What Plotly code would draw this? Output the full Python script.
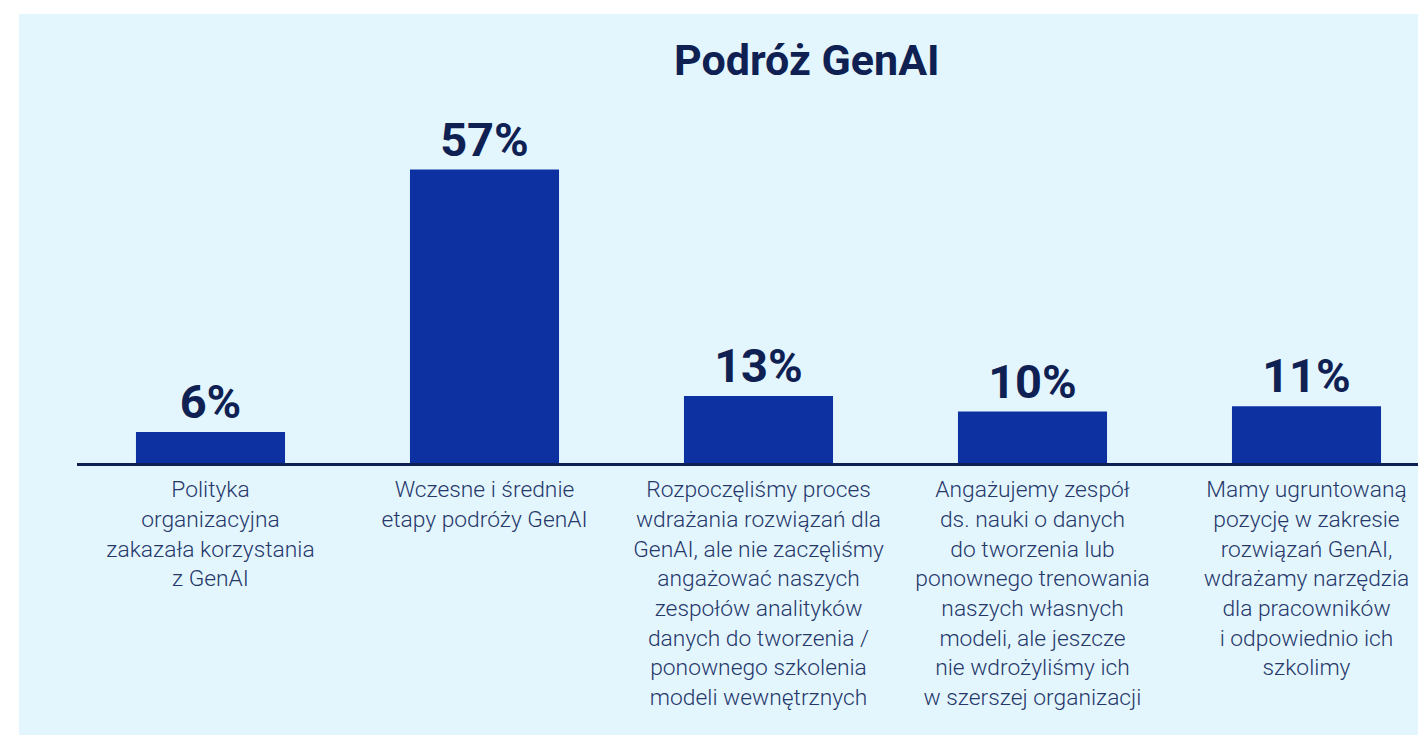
import plotly.graph_objects as go

categories = [
    "Polityka<br>organizacyjna<br>zakazała korzystania<br>z GenAI",
    "Wczesne i średnie<br>etapy podróży GenAI",
    "Rozpoczęliśmy proces<br>wdrażania rozwiązań dla<br>GenAI, ale nie zaczęliśmy<br>angażować naszych<br>zespołów analityków<br>danych do tworzenia /<br>ponownego szkolenia<br>modeli wewnętrznych",
    "Angażujemy zespół<br>ds. nauki o danych<br>do tworzenia lub<br>ponownego trenowania<br>naszych własnych<br>modeli, ale jeszcze<br>nie wdrożyliśmy ich<br>w szerszej organizacji",
    "Mamy ugruntowaną<br>pozycję w zakresie<br>rozwiązań GenAI,<br>wdrażamy narzędzia<br>dla pracowników<br>i odpowiednio ich<br>szkolimy",
]
values = [6, 57, 13, 10, 11]
value_labels = ["6%", "57%", "13%", "10%", "11%"]
title_text = "Podróż GenAI"

W, H = 1418, 735
ML, MT, MB = 77, 99, 272
plot_w = W - ML
plot_h = H - MT - MB
slot = 274.0
x0 = -(210.5 - ML) / slot
x1 = x0 + plot_w / slot

NAVY = "#0f2152"
BAR = "#0d31a1"
LABEL = "#26386a"
BG = "#e3f6fe"

fig = go.Figure()
fig.add_trace(go.Bar(
    x=list(range(len(values))),
    y=values,
    marker=dict(color=BAR, line=dict(width=0)),
    width=0.544,
    text=value_labels,
    textposition="outside",
    textfont=dict(family="Roboto", size=47, color=NAVY, weight="bold"),
    cliponaxis=False,
    hoverinfo="skip",
))

fig.update_layout(
    width=W, height=H,
    margin=dict(l=ML, r=0, t=MT, b=MB, pad=0),
    paper_bgcolor="white",
    plot_bgcolor=BG,
    showlegend=False,
    font=dict(family="Roboto", color=LABEL),
    xaxis=dict(
        range=[x0, x1],
        tickmode="array",
        tickvals=list(range(len(values))),
        ticktext=categories,
        tickfont=dict(family="Roboto", size=22.8, color=LABEL, weight=300),
        showline=True, linecolor=NAVY, linewidth=3,
        showgrid=False, zeroline=False, ticks="",
        ticklabelstandoff=4,
        fixedrange=True,
    ),
    yaxis=dict(
        range=[0, 70.7],
        visible=False,
        showgrid=False, zeroline=False,
        fixedrange=True,
    ),
    annotations=[dict(
        text=title_text, xref="paper", yref="paper",
        x=(807 - ML) / plot_w, y=(H - MB - 60) / plot_h,
        xanchor="center", yanchor="middle", showarrow=False,
        font=dict(family="Roboto", size=43, color=NAVY, weight="bold"),
    )],
    shapes=[dict(
        type="rect", xref="paper", yref="paper", layer="below",
        x0=(19 - ML) / plot_w, x1=1.01,
        y0=(H - MB - 740) / plot_h, y1=(H - MB - 14) / plot_h,
        fillcolor=BG, line=dict(width=0),
    )],
)

fig.write_html("out.html")
